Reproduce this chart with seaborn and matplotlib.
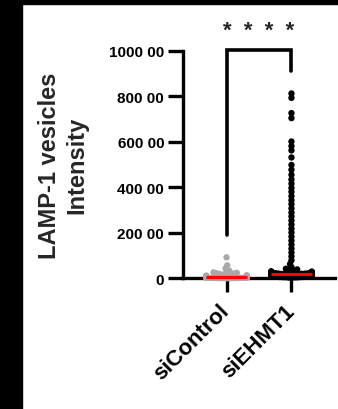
import matplotlib
matplotlib.use("Agg")
import matplotlib.pyplot as plt
from matplotlib.patches import Rectangle
import seaborn as sns
import pandas as pd
import numpy as np
import warnings

groups = ["siControl", "siEHMT1"]
colors = ["#A9A9A9", "#000000"]

# siControl intensities
si_control = [9200, 5700, 4400, 3300, 2900, 2600, 2400, 2200, 2000, 1850, 1700,
              1600, 1500, 1400, 1300, 1200, 1100, 1000, 900, 800, 700, 600,
              520, 480, 440, 420, 400, 380, 360, 340, 320, 300, 280, 260, 240,
              220, 200, 180, 160, 140, 120, 100, 80, 60, 40, 20, 0]

# siEHMT1: outliers, dense column, then the packed band near zero
ehmt1_top = [81200, 79300, 72600, 70400, 60100, 58100, 56200, 53100, 49800,
             47700, 45500]
ehmt1_column = [43400, 41600, 39700, 38000, 36100, 34300, 32600, 30700, 28900,
                27200, 25400, 23600, 21800, 20100, 18300, 16500, 14800, 13000,
                11300, 9600, 7900, 6300, 4900]
ehmt1_band = [300, 340, 390, 420, 470, 500, 530, 570, 600, 640, 660, 710, 730,
              770, 800, 820, 870, 890, 930, 950, 990, 1000, 1030, 1050, 1080,
              1100, 1130, 1150, 1180, 1200, 1220, 1250, 1260, 1290, 1310, 1340,
              1350, 1380, 1400, 1430, 1440, 1470, 1480, 1500, 1530, 1540, 1570,
              1580, 1600, 1610, 1640, 1650, 1670, 1680, 1700, 1710, 1730, 1750,
              1760, 1780, 1790, 1800, 1810, 1820, 1830, 1840, 1850, 1860, 1870,
              1875, 1880, 1885, 1890, 1895, 1920, 1960, 2010, 2080, 2150, 2230,
              2320, 2400, 2500, 2610, 2700, 2820, 2950, 3080, 3200, 3350, 3600,
              3900, 4200]
si_ehmt1 = ehmt1_top + ehmt1_column + ehmt1_band

ytick_vals = [0, 20000, 40000, 60000, 80000, 100000]
ytick_labels = ["0", "200 00", "400 00", "600 00", "800 00", "1000 00"]
bracket_top = 100500
bracket_gap = 10000

df = pd.DataFrame({
    "group": ["siControl"] * len(si_control) + ["siEHMT1"] * len(si_ehmt1),
    "value": si_control + si_ehmt1,
})

sns.set_style("ticks")
plt.rcParams["font.family"] = ["Liberation Sans", "DejaVu Sans"]
plt.rcParams["font.weight"] = "bold"

fig = plt.figure(figsize=(3.38, 4.10), dpi=100)
ax = fig.add_axes([0.5414, 0.3188, 0.4497, 0.555])

warnings.filterwarnings("ignore")
sns.swarmplot(data=df, x="group", y="value", hue="group", order=groups,
              hue_order=groups, palette=colors, size=2.6, linewidth=0,
              legend=False, ax=ax)
for c in ax.collections:
    c.set_clip_on(False)

# median lines
for i, vals in enumerate([si_control, si_ehmt1]):
    ax.hlines(np.median(vals), i - 0.32, i + 0.32, color="red", lw=2.3,
              zorder=5, clip_on=False)

# significance bracket
y0 = max(si_control) + bracket_gap
y1 = max(si_ehmt1) + bracket_gap
ax.plot([0, 0, 1, 1], [y0, bracket_top, bracket_top, y1], color="black",
        lw=2.6, clip_on=False, solid_joinstyle="miter")
ax.text(0.5, 106300, "*  *  *  *", ha="center", va="baseline", fontsize=16,
        fontweight="bold", clip_on=False)

ax.set_ylim(0, 100000)
ax.set_xlim(-0.67, 1.67)
ax.set_yticks(ytick_vals)
ax.set_yticklabels(ytick_labels, fontsize=11, fontweight="bold")
ax.set_xticks([0, 1])
ax.set_xticklabels(groups, fontsize=16, fontweight="bold", rotation=45,
                   ha="right", va="center", rotation_mode="anchor")
ax.set_xlabel("")
ax.set_ylabel("LAMP-1 vesicles\nIntensity", fontsize=17, fontweight="bold",
              linespacing=1.25)
ax.yaxis.set_label_coords(-0.62, 0.5)

sns.despine(ax=ax)
for s in ["left", "bottom"]:
    ax.spines[s].set_linewidth(2.4)
    ax.spines[s].set_color("black")
ax.tick_params(axis="y", length=10.5, width=2.4, pad=3, colors="black")
ax.tick_params(axis="x", length=10, width=2.4, pad=11, colors="black")

# black frame strips from the original screenshot
fig.add_artist(Rectangle((0, 0), 22 / 338, 1, transform=fig.transFigure,
                         color="black", zorder=10))
fig.add_artist(Rectangle((0, 1 - 5 / 410), 1, 5 / 410, transform=fig.transFigure,
                         color="black", zorder=10))

# let seaborn lay out the swarm once, then pull it a bit narrower and
# draw the dots larger so they overlap like the original
fig.canvas.draw()
for c in ax.collections:
    if "draw" in vars(c):
        xy = np.array(c.get_offsets())
        center = np.round(xy[:, 0].mean())
        xy[:, 0] = center + (xy[:, 0] - center) * 0.78
        c.set_offsets(xy)
        del c.draw
        c.set_sizes([4.6 ** 2])

fig.savefig("out.png", dpi=100)
